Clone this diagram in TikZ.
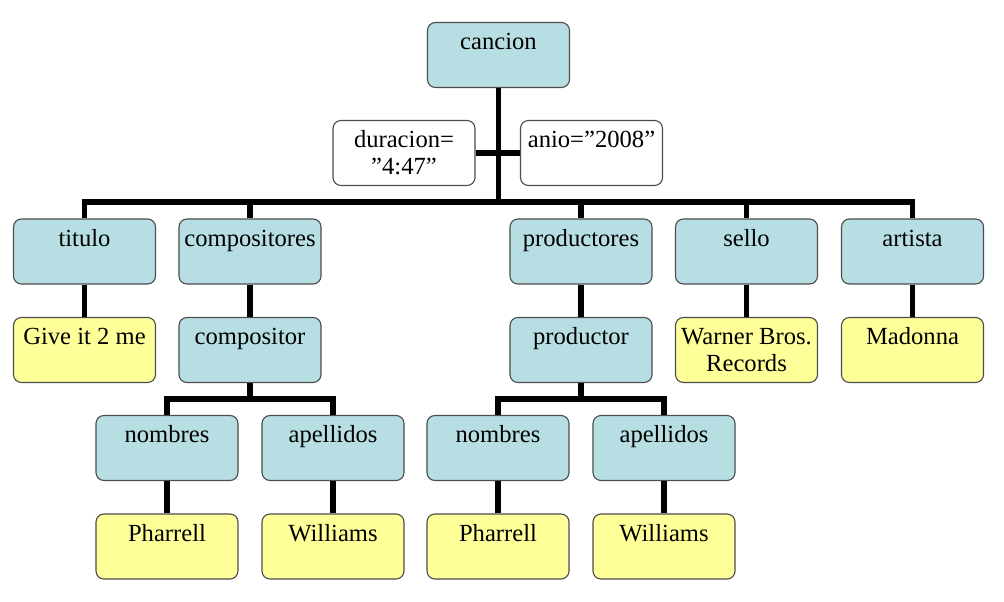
\documentclass[tikz,border=0pt]{standalone}
\usepackage{fontspec}
\setmainfont{Liberation Serif}
\usepackage{tikz}
\usetikzlibrary{calc}
\definecolor{tagblue}{RGB}{183,223,227}
\definecolor{valyellow}{RGB}{255,255,153}
\newcommand{\twoline}[2]{\begin{tabular}[t]{@{}c@{}}#1\\#2\end{tabular}}
\tikzset{
  box/.style={draw=black!70, line width=0.8pt, rounded corners=0.2cm,
    minimum width=3.55cm, inner xsep=1pt, inner ysep=0pt,
    text height=0.675cm, text depth=0.95cm,
    font=\fontsize{17.5}{19.5}\selectfont},
  tag/.style={box, fill=tagblue},
  val/.style={box, fill=valyellow},
  attr/.style={box, fill=white},
  link/.style={line width=3.9pt}
}
\begin{document}
\begin{tikzpicture}[x=0.025cm, y=-0.025cm]
    \useasboundingbox (0,0) rectangle (1004,601);
    % root and its attributes
    \node[tag] (cancion) at (498.5,55) {cancion};
    \node[attr] (duracion) at (404,153) {\twoline{duracion=}{”4:47”}};
    \node[attr] (anio) at (591.5,153) {anio=”2008”};
    % first level
    \node[tag] (titulo) at (84.5,251.5) {titulo};
    \node[tag] (compositores) at (250,251.5) {compositores};
    \node[tag] (productores) at (581,251.5) {productores};
    \node[tag] (sello) at (746.5,251.5) {sello};
    \node[tag] (artista) at (912.5,251.5) {artista};
    % second level
    \node[val] (titval) at (84.5,350) {Give it 2 me};
    \node[tag] (compositor) at (250,350) {compositor};
    \node[tag] (productor) at (581,350) {productor};
    \node[val] (selval) at (746.5,350) {\twoline{Warner Bros.}{Records}};
    \node[val] (artval) at (912.5,350) {Madonna};
    % third level
    \node[tag] (cnombres) at (167,448) {nombres};
    \node[tag] (capellidos) at (333,448) {apellidos};
    \node[tag] (pnombres) at (498,448) {nombres};
    \node[tag] (papellidos) at (664,448) {apellidos};
    % fourth level
    \node[val] (cnomval) at (167,546.5) {Pharrell};
    \node[val] (capeval) at (333,546.5) {Williams};
    \node[val] (pnomval) at (498,546.5) {Pharrell};
    \node[val] (papeval) at (664,546.5) {Williams};
    % connectors
    \coordinate (bus) at (498.5,202);
    \coordinate (cbus) at (250,399);
    \coordinate (pbus) at (581,399);
    \draw[link] (cancion.south) -- (bus);
    \draw[link] (duracion.east) -- (anio.west);
    \draw[link] (titulo.north) |- (bus) -| (artista.north);
    \draw[link] (compositores.north) -- (compositores.north |- bus);
    \draw[link] (productores.north) -- (productores.north |- bus);
    \draw[link] (sello.north) -- (sello.north |- bus);
    \draw[link] (titulo.south) -- (titval.north);
    \draw[link] (compositores.south) -- (compositor.north);
    \draw[link] (productores.south) -- (productor.north);
    \draw[link] (sello.south) -- (selval.north);
    \draw[link] (artista.south) -- (artval.north);
    \draw[link] (compositor.south) -- (cbus);
    \draw[link] (cnombres.north) |- (cbus) -| (capellidos.north);
    \draw[link] (productor.south) -- (pbus);
    \draw[link] (pnombres.north) |- (pbus) -| (papellidos.north);
    \draw[link] (cnombres.south) -- (cnomval.north);
    \draw[link] (capellidos.south) -- (capeval.north);
    \draw[link] (pnombres.south) -- (pnomval.north);
    \draw[link] (papellidos.south) -- (papeval.north);
\end{tikzpicture}
\end{document}
